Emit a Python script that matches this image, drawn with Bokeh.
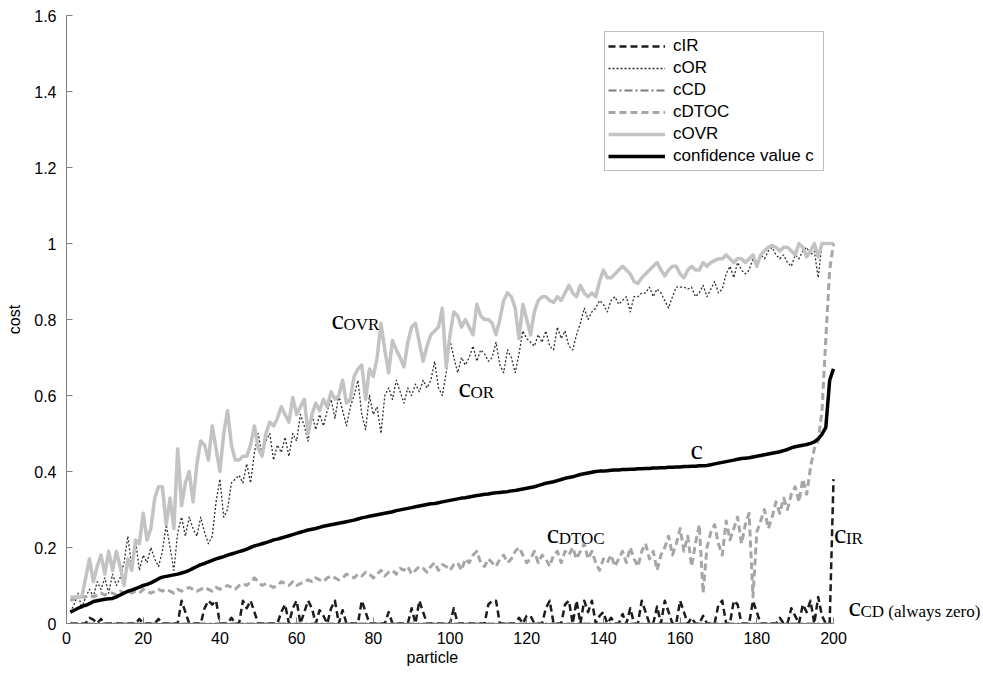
from bokeh.plotting import figure
from bokeh.models import Range1d, FixedTicker, CustomJSTickFormatter, Label, Legend, LegendItem, Title
from bokeh.embed import file_html
from bokeh.resources import INLINE

# ---------------- data ----------------
particle = list(range(1, 201))

c_ir = [
    0, 0, 0, 0, 0, 0.015, 0.01, 0, 0.012, 0,
    0, 0, 0, 0, 0, 0, 0, 0, 0.012, 0,
    0, 0, 0, 0.012, 0, 0, 0, 0, 0, 0.06,
    0.03, 0, 0, 0, 0, 0.04, 0.06, 0.05, 0.06, 0,
    0, 0, 0.015, 0, 0, 0.06, 0.04, 0.06, 0.03, 0,
    0, 0, 0, 0, 0, 0.03, 0.05, 0, 0.04, 0.06,
    0, 0.03, 0.06, 0.04, 0, 0.035, 0.02, 0, 0.04, 0.06,
    0, 0.035, 0, 0, 0, 0, 0.06, 0.03, 0, 0,
    0, 0, 0, 0.03, 0, 0, 0, 0, 0, 0.04,
    0, 0.06, 0.03, 0, 0, 0, 0, 0, 0, 0,
    0.04, 0, 0, 0, 0, 0, 0, 0, 0, 0.05,
    0.06, 0.06, 0, 0, 0, 0, 0, 0.015, 0, 0.02,
    0.02, 0, 0, 0, 0.04, 0.06, 0, 0, 0, 0.05,
    0.06, 0, 0.06, 0, 0.06, 0.03, 0.06, 0, 0.02, 0.03,
    0, 0.015, 0, 0, 0.025, 0, 0.04, 0, 0, 0.06,
    0.03, 0, 0, 0.045, 0, 0.06, 0.03, 0, 0, 0.06,
    0.03, 0, 0.015, 0, 0, 0.02, 0, 0, 0, 0.05,
    0.06, 0, 0, 0.06, 0.05, 0, 0, 0, 0.06, 0.03,
    0, 0, 0, 0, 0, 0.015, 0, 0, 0.04, 0.02,
    0, 0.05, 0.03, 0.06, 0, 0.07, 0.02, 0, 0, 0.38,
]

c_or = [
    0.03, 0.05, 0.08, 0.04, 0.07, 0.09, 0.07, 0.11, 0.09, 0.12,
    0.08, 0.13, 0.10, 0.12, 0.16, 0.23, 0.15, 0.22, 0.14, 0.18,
    0.16, 0.20, 0.17, 0.15, 0.19, 0.26, 0.20, 0.14, 0.24, 0.28,
    0.23, 0.28, 0.25, 0.23, 0.28, 0.24, 0.21, 0.23, 0.32, 0.38,
    0.28, 0.30, 0.37, 0.38, 0.39, 0.37, 0.42, 0.37, 0.45, 0.50,
    0.44, 0.48, 0.50, 0.43, 0.47, 0.45, 0.49, 0.44, 0.50, 0.48,
    0.55, 0.52, 0.48, 0.55, 0.51, 0.55, 0.52, 0.56, 0.59, 0.54,
    0.60, 0.56, 0.52, 0.57, 0.60, 0.64, 0.55, 0.51, 0.60, 0.55,
    0.57, 0.50, 0.60, 0.62, 0.59, 0.64, 0.61, 0.58, 0.62, 0.60,
    0.63, 0.61, 0.64, 0.62, 0.64, 0.69, 0.62, 0.60, 0.66, 0.745,
    0.70, 0.66, 0.70, 0.68, 0.70, 0.73, 0.69, 0.72, 0.71, 0.69,
    0.70, 0.74, 0.68, 0.66, 0.72, 0.70, 0.66, 0.71, 0.77, 0.75,
    0.74, 0.73, 0.76, 0.74, 0.77, 0.73, 0.72, 0.78, 0.75, 0.77,
    0.73, 0.72, 0.76, 0.79, 0.83, 0.80, 0.82, 0.83, 0.85, 0.84,
    0.82, 0.85, 0.86, 0.84, 0.85, 0.86, 0.82, 0.86, 0.86, 0.87,
    0.87, 0.885, 0.86, 0.88, 0.87, 0.85, 0.83, 0.86, 0.885, 0.885,
    0.885, 0.88, 0.885, 0.86, 0.87, 0.89, 0.86, 0.88, 0.90, 0.87,
    0.88, 0.92, 0.94, 0.91, 0.95, 0.93, 0.92, 0.93, 0.96, 0.94,
    0.97, 0.96, 0.98, 0.99, 0.97, 0.96, 0.97, 0.95, 0.94, 0.97,
    0.96, 0.98, 0.99, 0.97, 0.98, 0.91, 1.0, 1.0, 1.0, 1.0,
]

c_cd = [
    0, 0, 0, 0, 0, 0, 0, 0, 0, 0,  0, 0, 0, 0, 0, 0, 0, 0, 0, 0,
    0, 0, 0, 0, 0, 0, 0, 0, 0, 0,  0, 0, 0, 0, 0, 0, 0, 0, 0, 0,
    0, 0, 0, 0, 0, 0, 0, 0, 0, 0,  0, 0, 0, 0, 0, 0, 0, 0, 0, 0,
    0, 0, 0, 0, 0, 0, 0, 0, 0, 0,  0, 0, 0, 0, 0, 0, 0, 0, 0, 0,
    0, 0, 0, 0, 0, 0, 0, 0, 0, 0,  0, 0, 0, 0, 0, 0, 0, 0, 0, 0,
    0, 0, 0, 0, 0, 0, 0, 0, 0, 0,  0, 0, 0, 0, 0, 0, 0, 0, 0, 0,
    0, 0, 0, 0, 0, 0, 0, 0, 0, 0,  0, 0, 0, 0, 0, 0, 0, 0, 0, 0,
    0, 0, 0, 0, 0, 0, 0, 0, 0, 0,  0, 0, 0, 0, 0, 0, 0, 0, 0, 0,
    0, 0, 0, 0, 0, 0, 0, 0, 0, 0,  0, 0, 0, 0, 0, 0, 0, 0, 0, 0,
    0, 0, 0, 0, 0, 0, 0, 0, 0, 0,  0, 0, 0, 0, 0, 0, 0, 0, 0, 0,
]

c_dtoc = [
    0.06, 0.065, 0.07, 0.07, 0.07, 0.075, 0.07, 0.075, 0.08, 0.075,
    0.08, 0.08, 0.075, 0.085, 0.08, 0.085, 0.08, 0.085, 0.08, 0.09,
    0.085, 0.08, 0.085, 0.09, 0.085, 0.09, 0.085, 0.08, 0.09, 0.085,
    0.09, 0.095, 0.09, 0.085, 0.09, 0.095, 0.09, 0.085, 0.095, 0.09,
    0.095, 0.10, 0.095, 0.09, 0.10, 0.105, 0.10, 0.11, 0.12, 0.11,
    0.10, 0.105, 0.10, 0.095, 0.10, 0.11, 0.105, 0.10, 0.11, 0.10,
    0.105, 0.11, 0.115, 0.11, 0.12, 0.115, 0.11, 0.12, 0.125, 0.12,
    0.115, 0.12, 0.13, 0.125, 0.12, 0.13, 0.125, 0.135, 0.13, 0.12,
    0.13, 0.14, 0.125, 0.135, 0.14, 0.13, 0.145, 0.14, 0.15, 0.13,
    0.14, 0.15, 0.145, 0.135, 0.15, 0.16, 0.14, 0.155, 0.15, 0.14,
    0.155, 0.16, 0.14, 0.17, 0.16, 0.18, 0.19, 0.16, 0.15, 0.17,
    0.16, 0.15, 0.17, 0.18, 0.16, 0.17, 0.19, 0.20, 0.18, 0.16,
    0.17, 0.19, 0.16, 0.18, 0.17, 0.15, 0.18, 0.19, 0.16, 0.19,
    0.18, 0.20, 0.17, 0.19, 0.21, 0.17, 0.19, 0.16, 0.14, 0.17,
    0.16, 0.18, 0.15, 0.17, 0.19, 0.16, 0.20, 0.17, 0.15, 0.19,
    0.21, 0.17, 0.19, 0.14, 0.18, 0.20, 0.23, 0.18, 0.21, 0.25,
    0.19, 0.23, 0.15, 0.21, 0.26, 0.08, 0.20, 0.24, 0.26, 0.21,
    0.18, 0.27, 0.22, 0.25, 0.28, 0.21, 0.26, 0.29, 0.07, 0.24,
    0.27, 0.30, 0.25, 0.28, 0.32, 0.29, 0.33, 0.30, 0.34, 0.36,
    0.32, 0.38, 0.34, 0.41, 0.46, 0.48, 0.56, 0.75, 0.93, 1.0,
]

c_ovr = [
    0.07, 0.07, 0.07, 0.07, 0.12, 0.17, 0.11, 0.15, 0.18, 0.13,
    0.19, 0.14, 0.19, 0.15, 0.10, 0.17, 0.14, 0.22, 0.21, 0.29,
    0.22, 0.25, 0.33, 0.36, 0.36, 0.26, 0.33, 0.25, 0.46, 0.31,
    0.37, 0.40, 0.32, 0.42, 0.48, 0.47, 0.43, 0.52, 0.46, 0.40,
    0.50, 0.56, 0.47, 0.43, 0.43, 0.44, 0.44, 0.47, 0.52, 0.46,
    0.44, 0.50, 0.53, 0.52, 0.54, 0.57, 0.55, 0.53, 0.595, 0.55,
    0.57, 0.59, 0.50, 0.55, 0.58, 0.56, 0.59, 0.57, 0.61, 0.59,
    0.60, 0.64, 0.58, 0.59, 0.65, 0.67, 0.68, 0.59, 0.67, 0.65,
    0.70, 0.79, 0.72, 0.66, 0.745, 0.72, 0.70, 0.675, 0.74, 0.78,
    0.79, 0.74, 0.69, 0.73, 0.76, 0.77, 0.78, 0.83, 0.675, 0.76,
    0.82, 0.81, 0.78, 0.80, 0.78, 0.76, 0.84, 0.81, 0.80, 0.80,
    0.79, 0.76, 0.80, 0.85, 0.87, 0.86, 0.83, 0.75, 0.84, 0.80,
    0.76, 0.82, 0.85, 0.86, 0.86, 0.85, 0.845, 0.86, 0.85, 0.87,
    0.89, 0.87, 0.86, 0.89, 0.87, 0.86, 0.87, 0.86, 0.90, 0.93,
    0.91, 0.91, 0.92, 0.93, 0.94, 0.93, 0.92, 0.90, 0.895, 0.91,
    0.92, 0.93, 0.94, 0.95, 0.93, 0.915, 0.93, 0.94, 0.94, 0.92,
    0.91, 0.93, 0.94, 0.93, 0.93, 0.95, 0.94, 0.95, 0.955, 0.96,
    0.96, 0.97, 0.96, 0.95, 0.96, 0.96, 0.95, 0.96, 0.97, 0.94,
    0.97, 0.98, 0.99, 0.995, 0.99, 0.98, 0.99, 0.99, 0.98, 0.97,
    1.0, 0.99, 0.965, 0.98, 1.0, 0.965, 1.0, 1.0, 1.0, 1.0,
]

c_conf = [
    0.030, 0.035, 0.040, 0.045, 0.048, 0.052, 0.058, 0.060, 0.062, 0.064,
    0.065, 0.066, 0.070, 0.075, 0.080, 0.085, 0.088, 0.092, 0.096, 0.100,
    0.103, 0.107, 0.112, 0.118, 0.122, 0.124, 0.126, 0.128, 0.130, 0.133,
    0.136, 0.140, 0.145, 0.150, 0.155, 0.158, 0.162, 0.166, 0.170, 0.173,
    0.176, 0.180, 0.183, 0.186, 0.189, 0.192, 0.196, 0.200, 0.204, 0.207,
    0.210, 0.213, 0.216, 0.220, 0.222, 0.225, 0.228, 0.231, 0.234, 0.237,
    0.240, 0.243, 0.246, 0.248, 0.250, 0.253, 0.256, 0.258, 0.260, 0.262,
    0.264, 0.266, 0.268, 0.270, 0.272, 0.275, 0.278, 0.280, 0.282, 0.284,
    0.286, 0.288, 0.290, 0.292, 0.294, 0.297, 0.299, 0.301, 0.303, 0.305,
    0.307, 0.309, 0.311, 0.313, 0.315, 0.316, 0.318, 0.320, 0.322, 0.324,
    0.326, 0.328, 0.330, 0.331, 0.333, 0.335, 0.337, 0.338, 0.340, 0.341,
    0.343, 0.344, 0.345, 0.346, 0.347, 0.349, 0.350, 0.352, 0.354, 0.356,
    0.358, 0.360, 0.363, 0.366, 0.369, 0.371, 0.373, 0.376, 0.379, 0.382,
    0.384, 0.386, 0.389, 0.392, 0.394, 0.396, 0.398, 0.400, 0.401, 0.401,
    0.402, 0.403, 0.404, 0.404, 0.405, 0.405, 0.406, 0.406, 0.407, 0.407,
    0.408, 0.408, 0.409, 0.409, 0.410, 0.410, 0.411, 0.411, 0.412, 0.412,
    0.413, 0.413, 0.414, 0.414, 0.415, 0.415, 0.416, 0.418, 0.420, 0.422,
    0.424, 0.426, 0.428, 0.430, 0.432, 0.434, 0.435, 0.436, 0.438, 0.440,
    0.442, 0.444, 0.446, 0.448, 0.450, 0.452, 0.455, 0.458, 0.462, 0.465,
    0.467, 0.469, 0.471, 0.474, 0.478, 0.486, 0.498, 0.516, 0.640, 0.670,
]

series_names = ["cIR", "cOR", "cCD", "cDTOC", "cOVR", "confidence value c"]
x_ticks = [0, 20, 40, 60, 80, 100, 120, 140, 160, 180, 200]
y_ticks = [0, 0.2, 0.4, 0.6, 0.8, 1.0, 1.2, 1.4, 1.6]

# annotation texts: (main, subscript, x, y)
annotations = [
    ("c", "OVR", 69.1, 0.80),
    ("c", "OR", 102.2, 0.62),
    ("c", "", 162.7, 0.457),
    ("c", "DTOC", 125.2, 0.238),
    ("c", "IR", 200.1, 0.236),
    ("c", "CD (always zero)", 203.9, 0.046),
]

# ---------------- figure ----------------
SANS = "Liberation Sans"
SERIF = "Liberation Serif"

LEFT, RIGHT_EDGE, AXIS_END_PX = 66, 983, 833
x_view_end = 200 * (RIGHT_EDGE - LEFT) / (AXIS_END_PX - LEFT)

p = figure(width=983, height=673, output_backend="svg", toolbar_location=None,
           x_range=Range1d(0, x_view_end), y_range=Range1d(0, 1.6),
           min_border_left=LEFT, min_border_right=0, min_border_top=15,
           min_border_bottom=50)
p.outline_line_color = None
p.xgrid.visible = False
p.ygrid.visible = False
p.background_fill_color = "white"
p.border_fill_color = "white"

styles = [
    dict(line_color="#1c1c1c", line_width=2.5, line_dash="7 4"),
    dict(line_color="#2e2e2e", line_width=1.3, line_dash="2 2"),
    dict(line_color="#7a7a7a", line_width=2.0, line_dash="8 3 2 3"),
    dict(line_color="#a6a6a6", line_width=3.0, line_dash="7 4"),
    dict(line_color="#c3c3c3", line_width=3.5, line_dash="solid"),
    dict(line_color="#000000", line_width=3.5, line_dash="solid"),
]
series = [c_ir, c_or, c_cd, c_dtoc, c_ovr, c_conf]

items = []
for name, ys, st in zip(series_names, series, styles):
    r = p.line(particle, ys, line_join="round", **st)
    items.append(LegendItem(label=name, renderers=[r]))

legend = Legend(items=items, location=(538, 452))
legend.label_text_font = SANS
legend.label_text_font_size = "17px"
legend.label_text_color = "#000000"
legend.glyph_width = 57
legend.glyph_height = 22
legend.label_height = 22
legend.label_width = 147
legend.label_standoff = 8
legend.spacing = 0
legend.padding = 3
legend.margin = 0
legend.border_line_color = "#808080"
legend.border_line_width = 1
legend.background_fill_color = "white"
legend.background_fill_alpha = 1.0
p.add_layout(legend, "center")

for ax in (p.xaxis, p.yaxis):
    ax.axis_line_color = "#7f7f7f"
    ax.major_tick_line_color = "#7f7f7f"
    ax.major_tick_in = 6
    ax.major_tick_out = 0
    ax.minor_tick_line_color = None
    ax.major_label_text_font = SANS
    ax.major_label_text_font_size = "16px"
    ax.major_label_text_color = "#000000"
    ax.axis_label_text_font = SANS
    ax.axis_label_text_font_size = "16px"
    ax.axis_label_text_font_style = "normal"
    ax.axis_label_text_color = "#000000"

p.xaxis.bounds = (0, 200)
p.xaxis.ticker = FixedTicker(ticks=x_ticks)
p.yaxis.ticker = FixedTicker(ticks=y_ticks)
p.yaxis.formatter = CustomJSTickFormatter(code="return Number(tick.toFixed(1)).toString();")
p.yaxis.axis_label = "cost"
p.xaxis.major_label_standoff = 8
p.yaxis.major_label_standoff = 10
p.yaxis.axis_label_standoff = 8

# x-axis title, centred under the drawn part of the axis (0..200)
xlabel = Title(text="particle", align="left", offset=340, standoff=0,
               text_font=SANS, text_font_size="16px", text_font_style="normal",
               text_color="#000000")
p.add_layout(xlabel, "below")

for main, sub, ax_, ay_ in annotations:
    p.add_layout(Label(x=ax_, y=ay_, text=main, text_font=SERIF, text_font_size="28px",
                       text_color="#000000", text_align="left", text_baseline="alphabetic"))
    if sub:
        p.add_layout(Label(x=ax_, y=ay_, x_offset=12, y_offset=-5, text=sub, text_font=SERIF,
                           text_font_size="17px", text_color="#000000",
                           text_align="left", text_baseline="alphabetic"))

open("out.html", "w").write(file_html(p, INLINE))
